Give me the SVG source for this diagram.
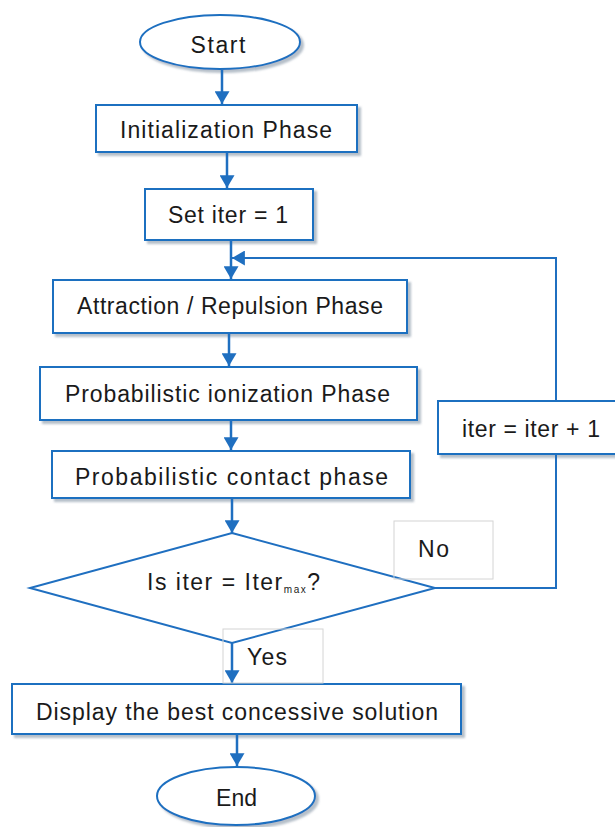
<svg xmlns="http://www.w3.org/2000/svg" width="615" height="827" viewBox="0 0 615 827">
<defs>
<filter id="sh" x="-10%" y="-10%" width="130%" height="140%">
<feDropShadow dx="3" dy="3" stdDeviation="1.2" flood-color="#7a8a9c" flood-opacity="0.55"/>
</filter>
<marker id="ah" viewBox="0 0 12 14" refX="12" refY="7" markerWidth="13" markerHeight="15" markerUnits="userSpaceOnUse" orient="auto">
<path d="M0,0 L12,7 L0,14 Z" fill="#1f6fc0"/>
</marker>
</defs>
<style>
.box{fill:#fff;stroke:#1f6fc0;stroke-width:2;filter:url(#sh)}
.lbl{fill:none;stroke:#d4d4d4;stroke-width:1}
.dia{fill:#fff;stroke:#1f6fc0;stroke-width:2}
.con{fill:none;stroke:#1f6fc0;stroke-width:2.5}
.loop{fill:none;stroke:#1f6fc0;stroke-width:2}
text{font-family:"Liberation Sans",Arial,sans-serif;font-size:23px;fill:#1a1a1a;text-anchor:middle}
</style>
<g id="start"><ellipse class="box" cx="220" cy="42" rx="80" ry="27"/><text x="218" y="53" textLength="55">Start</text></g>
<g id="init"><rect class="box" x="96" y="105" width="261" height="47"/><text x="226" y="138" textLength="212">Initialization Phase</text></g>
<g id="setiter"><rect class="box" x="145" y="189" width="168" height="51"/><text x="228" y="223" textLength="120">Set iter = 1</text></g>
<g id="attr"><rect class="box" x="53" y="280" width="354" height="53"/><text x="230" y="314" textLength="306">Attraction / Repulsion Phase</text></g>
<g id="ion"><rect class="box" x="40" y="367" width="377" height="53"/><text x="227.5" y="402" textLength="325">Probabilistic ionization Phase</text></g>
<g id="contact"><rect class="box" x="52" y="451" width="358" height="47"/><text x="231.5" y="485" textLength="313">Probabilistic contact phase</text></g>
<g id="incr"><rect class="box" x="438" y="401" width="190" height="53"/><text x="531" y="437" textLength="138">iter = iter + 1</text></g>
<g id="decision"><path class="dia" d="M232,533 L435,588 L232,643 L30,588 Z"/><text x="233.5" y="590" textLength="173">Is iter = Iter<tspan font-size="10" dy="3">max</tspan><tspan dy="-3">?</tspan></text></g>
<g id="display"><rect class="box" x="12" y="684" width="449" height="50"/><text x="237" y="720" textLength="402">Display the best concessive solution</text></g>
<g id="end"><ellipse class="box" cx="236" cy="796" rx="79" ry="29"/><text x="236.5" y="806" textLength="41">End</text></g>
<g id="connectors">
<line class="con" x1="222" y1="70" x2="222" y2="104" marker-end="url(#ah)"/>
<line class="con" x1="227" y1="152" x2="227" y2="188" marker-end="url(#ah)"/>
<line class="con" x1="231" y1="240" x2="231" y2="279" marker-end="url(#ah)"/>
<line class="con" x1="229" y1="333" x2="229" y2="366" marker-end="url(#ah)"/>
<line class="con" x1="231" y1="420" x2="231" y2="450" marker-end="url(#ah)"/>
<line class="con" x1="232" y1="498" x2="232" y2="533" marker-end="url(#ah)"/>
<line class="con" x1="232" y1="643" x2="232" y2="683" marker-end="url(#ah)"/>
<line class="con" x1="237" y1="734" x2="237" y2="766" marker-end="url(#ah)"/>
<polyline class="loop" points="556,401 556,258 232,258" marker-end="url(#ah)"/>
<polyline class="loop" points="435,588 556,588 556,454"/>
</g>
<g id="labels">
<rect class="lbl" x="394" y="521" width="99" height="58"/><text x="433.5" y="557" textLength="31">No</text>
<rect class="lbl" x="223" y="629" width="100" height="54"/><text x="267" y="665" textLength="40">Yes</text>
</g>
</svg>
